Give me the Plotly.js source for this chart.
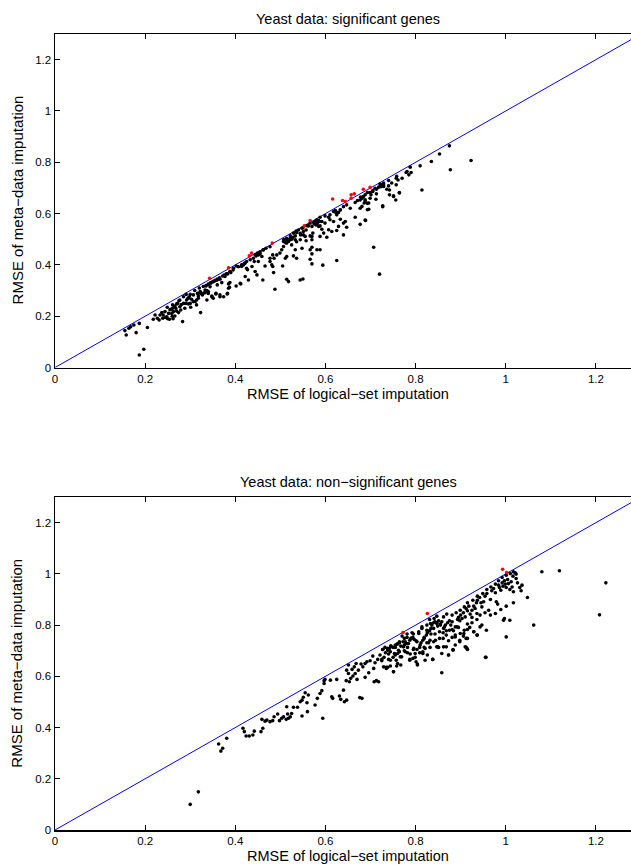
<!DOCTYPE html>
<html>
<head>
<meta charset="utf-8">
<script src="https://cdn.plot.ly/plotly-3.0.1.min.js"></script>
<style>
  html, body { margin: 0; padding: 0; overflow: hidden; background: #fff; }
  #chart { width: 645px; height: 865px; }
</style>
</head>
<body>
<div id="chart"></div>
<script>
// ---- data ----
var titles = ["Yeast data: significant genes", "Yeast data: non\u2212significant genes"];
var xLabel = "RMSE of logical\u2212set imputation";
var yLabel = "RMSE of meta\u2212data imputation";
var tickValues = [0, 0.2, 0.4, 0.6, 0.8, 1, 1.2];
var tickLabels = ["0", "0.2", "0.4", "0.6", "0.8", "1", "1.2"];
var diagonal = [0, 1.3];

var sigBlack = [
[0.155,0.144],[0.158,0.127],[0.164,0.153],[0.168,0.159],[0.175,0.166],[0.180,0.136],[0.187,0.172],[0.187,0.049],
[0.197,0.071],[0.205,0.156],[0.218,0.188],[0.222,0.205],[0.227,0.192],[0.231,0.185],[0.233,0.205],[0.237,0.214],
[0.239,0.192],[0.244,0.218],[0.248,0.198],[0.249,0.235],[0.252,0.211],[0.254,0.188],[0.257,0.227],[0.259,0.211],
[0.261,0.244],[0.263,0.218],[0.266,0.201],[0.268,0.231],[0.270,0.248],[0.274,0.214],[0.277,0.237],[0.279,0.224],
[0.283,0.179],[0.285,0.250],[0.288,0.231],[0.292,0.263],[0.296,0.248],[0.298,0.276],[0.301,0.235],[0.303,0.266],
[0.307,0.283],[0.311,0.257],[0.314,0.244],[0.316,0.289],[0.318,0.270],[0.322,0.296],[0.323,0.214],[0.327,0.283],
[0.333,0.302],[0.337,0.263],[0.340,0.296],[0.344,0.315],[0.348,0.276],[0.352,0.335],[0.357,0.289],[0.360,0.322],
[0.366,0.276],[0.370,0.331],[0.382,0.287],[0.385,0.326],[0.387,0.313],[0.402,0.318],[0.411,0.328],[0.488,0.305],
[0.245,0.195],[0.260,0.200],[0.255,0.225],[0.265,0.235],[0.270,0.220],[0.280,0.245],[0.290,0.250],[0.240,0.205],
[0.250,0.190],[0.262,0.190],[0.275,0.260],[0.295,0.270],[0.300,0.285],[0.310,0.300],[0.320,0.310],[0.330,0.290],
[0.335,0.320],[0.345,0.330],[0.355,0.340],[0.360,0.345],[0.365,0.350],[0.375,0.360],[0.380,0.365],[0.390,0.370],
[0.395,0.380],
[0.810,0.786],[0.790,0.760],[0.785,0.751],[0.779,0.760],[0.758,0.745],[0.761,0.731],[0.740,0.729],[0.729,0.719],
[0.723,0.712],[0.718,0.703],[0.710,0.699],[0.705,0.690],[0.699,0.682],[0.693,0.682],[0.688,0.673],[0.684,0.666],
[0.681,0.660],[0.677,0.653],[0.688,0.649],[0.693,0.640],[0.712,0.656],[0.729,0.706],[0.742,0.692],[0.751,0.669],
[0.756,0.653],[0.764,0.682],[0.727,0.627],[0.814,0.692],[0.696,0.617],[0.677,0.621],[0.688,0.575],[0.677,0.558],
[0.666,0.586],[0.640,0.517],[0.707,0.469],[0.625,0.417],[0.720,0.364],[0.594,0.399],[0.570,0.404],
[0.655,0.621],[0.647,0.634],[0.640,0.627],[0.633,0.614],[0.629,0.604],[0.624,0.601],[0.618,0.608],[0.610,0.595],
[0.607,0.586],[0.599,0.591],[0.588,0.586],[0.585,0.573],[0.579,0.569],[0.581,0.560],[0.575,0.560],[0.570,0.550],
[0.566,0.563],[0.562,0.552],[0.557,0.536],[0.551,0.530],[0.548,0.543],[0.544,0.523],[0.536,0.526],[0.533,0.513],
[0.528,0.508],[0.522,0.504],[0.514,0.504],[0.511,0.498],[0.507,0.491],[0.518,0.495],[0.525,0.478],[0.514,0.433],
[0.511,0.426],[0.529,0.435],[0.536,0.426],[0.548,0.465],[0.557,0.494],[0.570,0.498],[0.570,0.469],[0.581,0.459],
[0.588,0.459],[0.570,0.443],[0.599,0.563],[0.610,0.576],[0.618,0.569],[0.629,0.550],[0.633,0.578],[0.644,0.569],
[0.647,0.547],[0.585,0.550],[0.592,0.539],[0.596,0.524],[0.588,0.511],[0.603,0.508],[0.607,0.537],[0.614,0.530],
[0.625,0.534],[0.572,0.524],[0.566,0.513],[0.555,0.511],[0.544,0.498],[0.536,0.490],[0.566,0.422],[0.514,0.344],
[0.518,0.335],[0.544,0.341],[0.550,0.345],[0.505,0.396],[0.485,0.370],[0.481,0.400],[0.477,0.413],[0.486,0.426],
[0.492,0.439],[0.499,0.446],[0.503,0.459],[0.477,0.471],[0.468,0.465],[0.462,0.459],[0.455,0.443],[0.451,0.439],
[0.446,0.435],[0.440,0.426],[0.433,0.420],[0.425,0.413],[0.420,0.406],[0.414,0.400],[0.407,0.393],[0.402,0.396],
[0.396,0.387],[0.388,0.374],[0.383,0.365],[0.377,0.355],[0.372,0.357],[0.366,0.344],[0.360,0.341],[0.355,0.338],
[0.350,0.335],[0.346,0.329],[0.340,0.325],[0.335,0.318],[0.329,0.316],[0.461,0.341],[0.448,0.361],[0.444,0.374],
[0.437,0.394],[0.427,0.381],[0.429,0.341],[0.422,0.355],[0.412,0.326],[0.388,0.331],[0.385,0.309],[0.383,0.289],
[0.374,0.276],[0.366,0.283],[0.357,0.287],[0.351,0.270],[0.348,0.279],[0.340,0.289],[0.337,0.300],[0.333,0.292],
[0.323,0.289],[0.318,0.279],[0.314,0.263],[0.307,0.257],[0.300,0.250],[0.296,0.270],[0.291,0.285],[0.285,0.276],
[0.277,0.263],[0.272,0.250],[0.266,0.240],[0.261,0.231],[0.466,0.396],[0.483,0.394],[0.451,0.413],[0.442,0.413],
[0.507,0.472],[0.514,0.485],[0.522,0.513],[0.529,0.524],[0.535,0.532],[0.540,0.536],[0.545,0.517],[0.550,0.545],
[0.559,0.553],[0.574,0.565],[0.581,0.576],[0.592,0.569],
[0.875,0.864],[0.853,0.832],[0.835,0.803],[0.877,0.771],[0.923,0.807],[0.788,0.781],[0.770,0.738],[0.757,0.738],
[0.764,0.680],[0.757,0.712],[0.747,0.719],[0.736,0.695],[0.742,0.673],[0.751,0.667],[0.727,0.630],[0.721,0.715],
[0.723,0.705],[0.713,0.695],[0.713,0.677],[0.705,0.686],[0.701,0.673],[0.699,0.660],[0.696,0.641],[0.693,0.615],
[0.688,0.654],[0.686,0.641],[0.681,0.628],[0.678,0.664],[0.671,0.651],[0.666,0.643],[0.689,0.573],
[0.507,0.498],[0.514,0.500],[0.518,0.491],[0.522,0.498],[0.511,0.487],[0.525,0.500],[0.577,0.569],[0.582,0.563],
[0.587,0.569],[0.579,0.556],[0.588,0.552],[0.622,0.612],[0.627,0.604],[0.633,0.615],[0.625,0.595],[0.725,0.708],
[0.729,0.712],[0.740,0.708],[0.781,0.764],[0.455,0.451],[0.449,0.446],[0.462,0.458],[0.444,0.440],[0.418,0.400],
[0.414,0.394],[0.422,0.407],[0.425,0.387],[0.459,0.433],[0.477,0.426],[0.483,0.439],[0.533,0.459],[0.566,0.459],
[0.533,0.498],[0.551,0.517],[0.570,0.511],[0.640,0.563]
];

var sigRed = [
[0.343,0.348],[0.385,0.389],[0.431,0.435],[0.436,0.446],[0.482,0.485],[0.553,0.552],[0.566,0.573],[0.616,0.657],
[0.638,0.651],[0.644,0.647],[0.657,0.673],[0.664,0.677],[0.657,0.660],[0.684,0.695],[0.699,0.702]
];

var nonBlack = [
[0.300,0.100],[0.318,0.149],[0.363,0.336],[0.372,0.319],[0.368,0.308],[0.381,0.358],[0.417,0.397],[0.420,0.384],
[0.424,0.367],[0.431,0.367],[0.439,0.371],[0.442,0.386],[0.457,0.384],[0.461,0.397],[0.459,0.432],[0.466,0.425],
[0.470,0.429],[0.477,0.423],[0.483,0.427],[0.486,0.442],[0.494,0.453],[0.498,0.427],[0.503,0.436],[0.507,0.442],
[0.513,0.432],[0.516,0.453],[0.514,0.481],[0.518,0.436],[0.522,0.442],[0.525,0.455],[0.529,0.479],[0.538,0.479],
[0.544,0.501],[0.548,0.445],[0.548,0.507],[0.551,0.518],[0.555,0.536],[0.559,0.497],[0.560,0.462],[0.562,0.527],
[0.577,0.488],[0.582,0.514],[0.588,0.533],[0.592,0.544],[0.594,0.436],[0.597,0.572],[0.599,0.588],[0.597,0.583],
[0.611,0.585],[0.614,0.520],[0.616,0.514],[0.625,0.588],[0.631,0.523],[0.634,0.510],[0.640,0.546],[0.642,0.501],
[0.646,0.583],[0.647,0.624],[0.647,0.507],[0.651,0.644],[0.651,0.611],[0.653,0.579],[0.656,0.592],[0.659,0.627],
[0.661,0.601],[0.664,0.637],[0.666,0.611],[0.668,0.650],[0.670,0.588],[0.673,0.624],[0.676,0.517],[0.679,0.648],
[0.681,0.514],[0.683,0.637],[0.688,0.650],[0.688,0.596],[0.692,0.657],[0.696,0.614],[0.699,0.661],[0.705,0.679],
[0.707,0.631],[0.708,0.579],[0.710,0.653],[0.713,0.583],[0.716,0.666],[0.718,0.579],[0.721,0.683],[0.725,0.661],
[0.727,0.705],[0.729,0.637],[0.733,0.692],[0.735,0.631],[0.738,0.709],[0.740,0.666],[0.744,0.696],[0.745,0.718],
[0.751,0.618],[0.753,0.689],[0.755,0.713],[0.759,0.726],[0.760,0.650],[0.762,0.702],[0.764,0.735],[0.766,0.676],
[0.770,0.757],[0.773,0.715],[0.775,0.748],[0.777,0.696],[0.781,0.765],[0.784,0.728],[0.787,0.666],[0.790,0.748],
[0.792,0.770],[0.796,0.709],[0.799,0.689],[0.801,0.739],[0.804,0.648],[0.807,0.767],[0.810,0.722],[0.814,0.793],
[0.816,0.696],[0.819,0.748],[0.821,0.709],[0.825,0.780],[0.829,0.731],[0.833,0.806],[0.834,0.765],[0.838,0.666],
[0.840,0.787],[0.844,0.741],[0.847,0.809],[0.849,0.715],[0.853,0.774],[0.855,0.800],[0.858,0.614],[0.861,0.748],
[0.864,0.793],[0.868,0.715],[0.873,0.683],[0.875,0.780],[0.881,0.813],[0.883,0.705],[0.888,0.754],[0.892,0.793],
[0.898,0.735],[0.907,0.767],[0.910,0.715],[0.912,0.748],[0.914,0.709],[0.920,0.791],[0.929,0.774],[0.936,0.761],
[0.943,0.793],[0.956,0.674],
[0.725,0.666],[0.730,0.674],[0.727,0.705],[0.732,0.713],[0.738,0.702],[0.742,0.709],[0.745,0.718],[0.750,0.713],
[0.755,0.722],[0.760,0.726],[0.764,0.731],[0.767,0.718],[0.772,0.735],[0.775,0.722],[0.779,0.728],[0.782,0.713],
[0.787,0.741],[0.790,0.748],[0.794,0.752],[0.797,0.744],[0.735,0.635],[0.738,0.635],[0.744,0.640],[0.751,0.618],
[0.758,0.640],[0.767,0.644],[0.755,0.683],[0.760,0.689],[0.764,0.696],[0.750,0.674],[0.744,0.663],[0.740,0.687],
[0.757,0.663],[0.769,0.676],[0.775,0.700],[0.782,0.692],[0.788,0.687],[0.794,0.670],[0.799,0.674],[0.801,0.657],
[0.804,0.644],[0.803,0.705],[0.809,0.713],[0.812,0.731],[0.816,0.741],[0.819,0.752],[0.824,0.761],[0.826,0.770],
[0.831,0.778],[0.834,0.787],[0.836,0.800],[0.840,0.809],[0.843,0.813],[0.847,0.806],[0.849,0.796],[0.851,0.817],
[0.855,0.804],[0.858,0.813],[0.862,0.787],[0.866,0.800],[0.868,0.778],[0.871,0.809],[0.875,0.817],[0.878,0.800],
[0.881,0.783],[0.884,0.778],[0.888,0.793],[0.893,0.822],[0.895,0.830],[0.898,0.817],[0.900,0.839],[0.903,0.826],
[0.906,0.848],[0.910,0.832],[0.912,0.865],[0.915,0.856],[0.918,0.874],[0.921,0.843],[0.925,0.858],[0.929,0.874],
[0.932,0.865],[0.935,0.887],[0.937,0.897],[0.942,0.908],[0.945,0.887],[0.947,0.871],[0.951,0.891],[0.954,0.913],
[0.958,0.923],[0.962,0.858],[0.966,0.900],[0.969,0.934],[0.973,0.943],[0.977,0.926],[0.979,0.891],[0.982,0.882],
[0.984,0.956],[0.986,0.947],[0.989,0.936],[0.992,0.965],[0.994,0.952],[0.997,0.973],[0.999,0.960],[1.001,0.947],
[1.004,0.978],[1.006,0.962],[1.009,0.939],[1.012,0.969],[1.014,0.949],[1.016,0.991],[1.017,0.930],[1.021,1.004],
[1.023,0.982],[1.026,0.965],[1.031,0.947],[1.034,0.934],[1.036,0.956],[1.017,0.887],[1.001,0.874],[0.989,0.861],
[0.997,0.826],[0.977,0.845],[0.966,0.839],[0.954,0.848],[0.943,0.839],[0.936,0.822],[0.925,0.809],[0.915,0.804],
[0.908,0.780],[0.899,0.767],[0.895,0.791],[0.888,0.761],[0.881,0.752],[0.873,0.739],[0.868,0.761],[0.861,0.770],
[0.853,0.748],[0.843,0.765],[0.840,0.735],[0.832,0.741],[0.825,0.731],[0.819,0.713],[0.816,0.689],[0.809,0.692],
[0.826,0.683],[0.838,0.666],[0.851,0.713],[0.862,0.715],[0.873,0.683],[0.883,0.702],[0.888,0.722],[0.898,0.741],
[0.906,0.757],[0.915,0.748],[0.912,0.713],[0.915,0.705],[0.929,0.774],[0.937,0.761],[0.947,0.800],[0.957,0.780],
[0.915,0.783],[0.925,0.830],[0.936,0.845],[0.847,0.715],[0.858,0.689],[0.832,0.713],[0.821,0.663],[0.803,0.735],
[0.795,0.705],[0.787,0.663],[0.777,0.735],[0.781,0.752],[0.795,0.765],[0.807,0.774],[0.814,0.787],[0.825,0.800],
[0.831,0.822],[0.841,0.826],[0.847,0.835],[0.862,0.832],[0.869,0.843],[0.881,0.839],[0.890,0.848],[0.899,0.858],
[0.908,0.871],[0.915,0.887],[0.927,0.897],[0.937,0.913],[0.949,0.923],[0.958,0.939],[0.967,0.949],[0.977,0.960],
[0.984,0.973],[0.992,0.986],[1.001,0.995],[1.010,1.001],[1.017,1.008],[1.023,0.999],[0.995,0.819],[1.009,0.819],
[1.001,0.754],[1.048,0.908],[1.062,0.800],[1.080,1.008],[0.955,0.674],
[1.119,1.012],[1.222,0.965],[1.208,0.840]
];

var nonRed = [[0.993,1.018],[1.002,1.005],[0.826,0.845],[0.772,0.771]];

// ---- drawing ----
function xs(a) { return a.map(function (p) { return p[0]; }); }
function ys(a) { return a.map(function (p) { return p[1]; }); }

var lineStyle = { color: "#0000ff", width: 1 };
var blackMk = { color: "#000000", size: 3.6, symbol: "circle" };
var redMk = { color: "#ff0000", size: 3.6, symbol: "circle" };

var traces = [
  { x: diagonal, y: diagonal, mode: "lines", line: lineStyle, xaxis: "x", yaxis: "y", hoverinfo: "skip" },
  { x: xs(sigBlack), y: ys(sigBlack), mode: "markers", marker: blackMk, xaxis: "x", yaxis: "y" },
  { x: xs(sigRed), y: ys(sigRed), mode: "markers", marker: redMk, xaxis: "x", yaxis: "y" },
  { x: diagonal, y: diagonal, mode: "lines", line: lineStyle, xaxis: "x2", yaxis: "y2", hoverinfo: "skip" },
  { x: xs(nonBlack), y: ys(nonBlack), mode: "markers", marker: blackMk, xaxis: "x2", yaxis: "y2" },
  { x: xs(nonRed), y: ys(nonRed), mode: "markers", marker: redMk, xaxis: "x2", yaxis: "y2" }
];

var FONT = "Liberation Sans, Arial, Helvetica, sans-serif";
function axis(extra) {
  var a = {
    range: [0, 1.3], tickmode: "array", tickvals: tickValues, ticktext: tickLabels,
    ticks: "inside", ticklen: 5, tickwidth: 1, tickcolor: "#000",
    showline: true, linecolor: "#000", linewidth: 1.5, mirror: "ticks",
    showgrid: false, zeroline: false, fixedrange: true,
    tickfont: { family: FONT, size: 11.5, color: "#000" }
  };
  for (var k in extra) a[k] = extra[k];
  return a;
}

var topDom = [0.581, 1];
var botDom = [0, 0.4183];

var layout = {
  width: 645, height: 865,
  margin: { l: 55, r: 4, t: 34, b: 35 },
  paper_bgcolor: "#fff", plot_bgcolor: "#fff",
  showlegend: false,
  xaxis: axis({ domain: [0, 1], anchor: "y" }),
  yaxis: axis({ domain: topDom, anchor: "x" }),
  xaxis2: axis({ domain: [0, 1], anchor: "y2" }),
  yaxis2: axis({ domain: botDom, anchor: "x2" }),
  annotations: [
    { text: titles[0], xref: "paper", yref: "paper", x: 0.5, y: 1.0188, xanchor: "center", yanchor: "middle", showarrow: false, font: { family: FONT, size: 14.5, color: "#000" } },
    { text: titles[1], xref: "paper", yref: "paper", x: 0.5, y: 0.4372, xanchor: "center", yanchor: "middle", showarrow: false, font: { family: FONT, size: 14.5, color: "#000" } },
    { text: xLabel, xref: "paper", yref: "paper", x: 0.5, y: 0.548, xanchor: "center", yanchor: "middle", showarrow: false, font: { family: FONT, size: 14.5, color: "#000" } },
    { text: xLabel, xref: "paper", yref: "paper", x: 0.5, y: -0.0327, xanchor: "center", yanchor: "middle", showarrow: false, font: { family: FONT, size: 14.5, color: "#000" } },
    { text: yLabel, xref: "paper", yref: "paper", x: -0.0648, y: 0.791, xanchor: "center", yanchor: "middle", textangle: -90, showarrow: false, font: { family: FONT, size: 15, color: "#000" } },
    { text: yLabel, xref: "paper", yref: "paper", x: -0.0648, y: 0.209, xanchor: "center", yanchor: "middle", textangle: -90, showarrow: false, font: { family: FONT, size: 15, color: "#000" } }
  ]
};

Plotly.newPlot("chart", traces, layout, { staticPlot: true, displayModeBar: false });
</script>
</body>
</html>
